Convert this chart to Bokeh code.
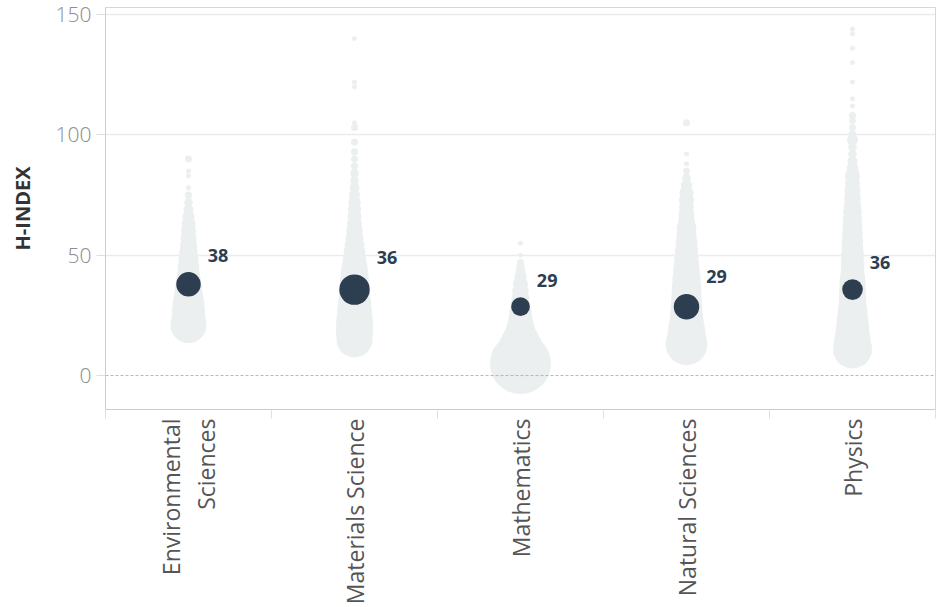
import math
import numpy as np
from bokeh.plotting import figure
from bokeh.models import ColumnDataSource, Range1d, FixedTicker, LinearAxis, Span
from bokeh.core.properties import value
from bokeh.embed import file_html
from bokeh.resources import INLINE

# ---------------- data ----------------
categories = ["Environmental Sciences", "Materials Science", "Mathematics",
              "Natural Sciences", "Physics"]
category_labels = ["Environmental\nSciences", "Materials Science",
                   "Mathematics", "Natural Sciences", "Physics"]

# h-index values and number of researchers at that value, per category
env_h = [21, 24, 27, 30, 33, 36, 39, 42, 45, 48, 51, 54, 57, 60, 63, 66, 69, 72, 75, 78, 83, 85, 90]
env_n = [52, 46, 44, 40, 34, 30, 26, 21, 19, 16, 14, 12, 10, 9, 8, 6, 4, 3, 2, 1, 1, 1, 2]

mat_h = [15, 18, 21, 24, 27, 30, 33, 36, 39, 42, 45, 48, 51, 54, 57, 60, 63, 66, 69, 72,
         75, 78, 81, 84, 87, 90, 93, 97, 103, 105, 120, 122, 140]
mat_n = [52, 55, 55, 52, 48, 44, 40, 36, 34, 31, 27, 22, 19, 16, 13, 11, 9, 8, 7, 6,
         5, 4, 3, 3, 2, 2, 2, 2, 2, 1, 1, 1, 1]

math_h = [5, 8, 11, 14, 17, 20, 23, 26, 29, 32, 35, 38, 41, 43, 45, 47, 50, 55]
math_n = [149, 100, 80, 60, 40, 30, 24, 20, 16, 13, 11, 9, 6, 4, 3, 2, 1, 1]

nat_h = [13, 16, 19, 22, 25, 28, 31, 34, 37, 40, 43, 46, 49, 52, 55, 58, 61, 64, 67, 70,
         73, 76, 79, 82, 85, 88, 92, 105]
nat_n = [70, 60, 55, 48, 44, 40, 38, 36, 34, 32, 29, 26, 24, 21, 19, 17, 16, 12, 10, 9,
         9, 8, 5, 3, 2, 1, 1, 2]

phys_h = [11, 14, 17, 20, 23, 26, 29, 32, 35, 38, 41, 44, 47, 50, 53, 56, 59, 62, 65, 68,
          71, 74, 77, 80, 83, 86, 89, 92, 95, 98, 100, 103, 106, 108, 112, 115, 122, 130,
          136, 142, 144]
phys_n = [61, 55, 48, 44, 40, 36, 32, 30, 29, 28, 25, 22, 21, 21, 19, 18, 17, 16, 15, 14,
          12, 11, 10, 9, 9, 6, 4, 3, 3, 5, 3, 2, 2, 2, 1, 1, 1, 1, 1, 1, 1]

mean_h = [37.9, 35.7, 28.6, 28.6, 35.7]
mean_weight = [24, 37, 14, 26, 17]

y_ticks = [0, 50, 100, 150]

# ---------------- build sources ----------------
dist_h = [env_h, mat_h, math_h, nat_h, phys_h]
dist_n = [env_n, mat_n, math_n, nat_n, phys_n]

SIZE_K = 5.0
xs, ys, ss = [], [], []
for i, (hh, nn) in enumerate(zip(dist_h, dist_n)):
    for h, n in zip(hh, nn):
        xs.append(i + 0.5)
        ys.append(h)
        ss.append(SIZE_K * np.sqrt(n))
dist_src = ColumnDataSource(dict(x=xs, y=ys, size=ss))

mean_size = [SIZE_K * np.sqrt(w) for w in mean_weight]
mean_src = ColumnDataSource(dict(
    x=[i + 0.5 for i in range(len(categories))],
    y=mean_h,
    size=mean_size,
    label=[f"{round(v)}" for v in mean_h],
    xo=[s / 2 + 7 for s in mean_size],
    yo=[-(s / 2 + 17) for s in mean_size],
))

# ---------------- figure ----------------
p = figure(width=939, height=607, output_backend="svg", toolbar_location=None,
           x_range=Range1d(0, 5), y_range=Range1d(-14.1, 152.9),
           min_border_left=105, min_border_right=4, min_border_top=7,
           min_border_bottom=198,
           background_fill_color="white", border_fill_color="white",
           outline_line_color="#d6d6d6")

p.xgrid.grid_line_color = None
p.ygrid.ticker = FixedTicker(ticks=[50, 100, 150])
p.ygrid.grid_line_color = "#ececec"
p.ygrid.grid_line_width = 1.5

p.add_layout(Span(location=0, dimension="width", line_color="#b5b5b5",
                  line_dash="3 2", line_width=1))

p.scatter("x", "y", size="size", source=dist_src, fill_color="#eceff0",
          line_color=None)
p.scatter("x", "y", size="size", source=mean_src, fill_color="#2c3e50",
          line_color=None)
p.text("x", "y", text="label", source=mean_src, x_offset="xo", y_offset="yo",
       text_font=value("Open Sans"), text_font_style="bold",
       text_font_size="18px", text_color="#2c3e50",
       text_align="left", text_baseline="middle")

# y axis
yax = p.yaxis[0]
yax.ticker = FixedTicker(ticks=y_ticks)
yax.major_tick_out = 9
yax.major_tick_in = 0
yax.major_tick_line_color = "#dedede"
yax.minor_tick_line_color = None
yax.axis_line_color = "#cccccc"
yax.major_label_text_font = "Open Sans Light"
yax.major_label_text_font_size = "21px"
yax.major_label_text_color = "#8f8f8f"
yax.major_label_standoff = 5
yax.axis_label = "H-INDEX"
yax.axis_label_text_font = "Open Sans"
yax.axis_label_text_font_style = "bold"
yax.axis_label_text_font_size = "20px"
yax.axis_label_text_color = "#333333"
yax.axis_label_standoff = 17

# x axis: boundary ticks
xax = p.xaxis[0]
xax.ticker = FixedTicker(ticks=[0, 1, 2, 3, 4, 5])
xax.major_label_overrides = {0: "", 1: "", 2: "", 3: "", 4: "", 5: ""}
xax.major_label_text_font_size = "0px"
xax.major_label_standoff = 0
xax.major_tick_out = 9
xax.major_tick_in = 0
xax.major_tick_line_color = "#e0e0e0"
xax.minor_tick_line_color = None
xax.axis_line_color = "#cccccc"

# x axis: category labels
lab_ax = LinearAxis(ticker=FixedTicker(ticks=[i + 0.5 for i in range(len(categories))]),
                    major_label_overrides={i + 0.5: lab for i, lab in enumerate(category_labels)},
                    major_label_orientation=math.pi / 2,
                    axis_line_color=None, major_tick_line_color=None,
                    major_tick_out=0, major_tick_in=0,
                    minor_tick_line_color=None, major_label_standoff=0,
                    major_label_text_font="Open Sans",
                    major_label_text_font_size="23px",
                    major_label_text_line_height=1.1,
                    major_label_text_color="#555555")
p.add_layout(lab_ax, "below")

open("out.html", "w").write(file_html(p, INLINE))
